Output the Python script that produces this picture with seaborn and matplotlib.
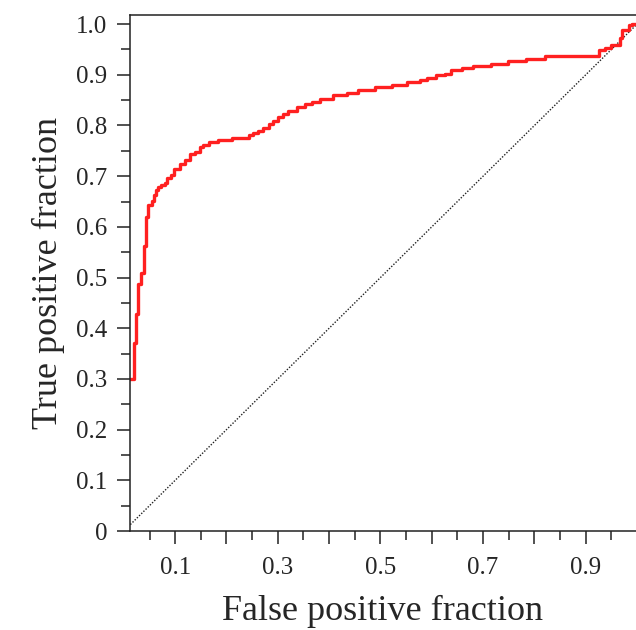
import numpy as np
import pandas as pd
import matplotlib
matplotlib.use("Agg")
import matplotlib.pyplot as plt
import seaborn as sns

# ROC points (step curve)
fpr = [0.0, 0.0, 0.019, 0.0235, 0.028, 0.033, 0.040, 0.0436, 0.047, 0.054,
       0.059, 0.063, 0.066, 0.072, 0.080, 0.084, 0.092, 0.098, 0.110, 0.119,
       0.129, 0.139, 0.149, 0.155, 0.165, 0.184, 0.210, 0.243, 0.252, 0.262,
       0.272, 0.282, 0.291, 0.301, 0.311, 0.320, 0.337, 0.353, 0.366, 0.382,
       0.408, 0.434, 0.457, 0.489, 0.522, 0.551, 0.577, 0.590, 0.609, 0.625,
       0.638, 0.658, 0.680, 0.716, 0.748, 0.784, 0.820, 0.925, 0.937, 0.950,
       0.966, 0.970, 0.985, 0.990, 1.0]
tpr = [0.0, 0.300, 0.370, 0.428, 0.487, 0.509, 0.562, 0.619, 0.643, 0.651,
       0.663, 0.673, 0.679, 0.682, 0.687, 0.696, 0.702, 0.715, 0.725, 0.732,
       0.743, 0.748, 0.758, 0.761, 0.767, 0.771, 0.776, 0.781, 0.786, 0.790,
       0.796, 0.802, 0.809, 0.816, 0.822, 0.829, 0.837, 0.842, 0.847, 0.853,
       0.860, 0.865, 0.870, 0.875, 0.880, 0.885, 0.890, 0.894, 0.899, 0.902,
       0.909, 0.914, 0.918, 0.922, 0.927, 0.932, 0.937, 0.949, 0.953, 0.959,
       0.972, 0.988, 0.998, 1.0, 1.0]
chance = [0.0, 1.0]

ytick_vals = [0, 0.1, 0.2, 0.3, 0.4, 0.5, 0.6, 0.7, 0.8, 0.9, 1.0]
ytick_labels = ['0', '0.1', '0.2', '0.3', '0.4', '0.5', '0.6', '0.7', '0.8', '0.9', '1.0']
xtick_vals = [0.1, 0.2, 0.3, 0.4, 0.5, 0.6, 0.7, 0.8, 0.9]
xtick_labels = ['0.1', '', '0.3', '', '0.5', '', '0.7', '', '0.9']

df = pd.DataFrame({'fpr': fpr, 'tpr': tpr})

sns.set_style('ticks')
plt.rcParams['font.family'] = ['Liberation Serif', 'DejaVu Serif']

fig = plt.figure(figsize=(6.36, 6.30), dpi=100)
ax = fig.add_axes([130 / 636, 99 / 630, 506 / 636, 516 / 630])

ax.plot(chance, chance, color='#222222', lw=1.0, ls=(0, (1, 1.2)))
sns.lineplot(data=df, x='fpr', y='tpr', ax=ax, color='#ff2020', lw=2.4,
             drawstyle='steps-post', sort=False, estimator=None)

ax.set_xlim(0.012, 0.998)
ax.set_ylim(0, 1.018)

ax.set_yticks(ytick_vals)
ax.set_yticklabels(ytick_labels)
ax.set_yticks(np.arange(0.05, 1.0, 0.1), minor=True)
ax.set_xticks(xtick_vals)
ax.set_xticklabels(xtick_labels)
ax.set_xticks(np.arange(0.05, 1.0, 0.1), minor=True)

ax.tick_params(which='major', length=9.5, width=1.1, color='#222222',
               labelsize=18, pad=7)
ax.tick_params(axis='x', which='major', pad=9)
ax.tick_params(which='minor', length=6.5, width=1.1, color='#222222')

for side in ['left', 'bottom', 'top']:
    ax.spines[side].set_linewidth(1.1)
    ax.spines[side].set_color('#222222')
ax.spines['right'].set_visible(False)

ax.set_xlabel('False positive fraction', fontsize=26, labelpad=12)
ax.set_ylabel('True positive fraction', fontsize=26, labelpad=8)

fig.savefig('out.png', dpi=100)
